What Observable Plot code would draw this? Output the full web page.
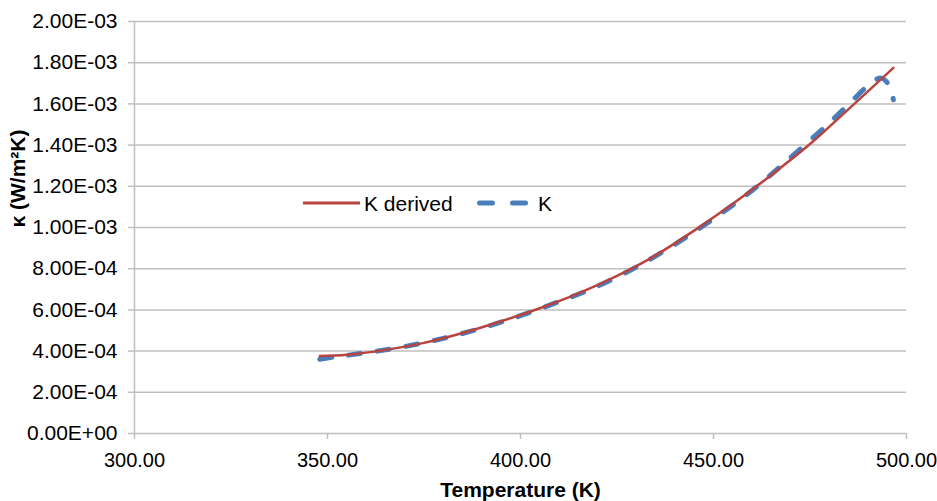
<!DOCTYPE html>
<html>
<head>
<meta charset="utf-8">
<script src="https://cdn.jsdelivr.net/npm/d3@7"></script>
<script src="https://cdn.jsdelivr.net/npm/@observablehq/plot@0.6"></script>
<style>
  html, body { margin: 0; padding: 0; background: #fff; }
  #wrap { position: relative; width: 937px; height: 501px; font-family: "Liberation Sans", Arial, sans-serif; }
  #legend { position: absolute; left: 300px; top: 190px; }
</style>
</head>
<body>
<div id="wrap"></div>
<script>
// Temperature (K) and κ values (W/m²K)
const tDerived = [348, 355, 365, 375, 385, 395, 405, 415, 425, 435, 445, 455, 465, 475, 485, 496.6];
const kDerived = [3.76e-4, 3.82e-4, 4.06e-4, 4.40e-4, 4.88e-4, 5.45e-4, 6.08e-4, 6.80e-4, 7.65e-4, 8.65e-4, 9.85e-4, 1.115e-3, 1.255e-3, 1.405e-3, 1.575e-3, 1.775e-3];

const tK = [348, 352, 360, 370, 380, 390, 400, 410, 420, 430, 440, 450, 460, 470, 480, 487, 491, 493.5, 495.5, 496.6];
const kK = [3.60e-4, 3.72e-4, 3.92e-4, 4.22e-4, 4.62e-4, 5.12e-4, 5.72e-4, 6.40e-4, 7.15e-4, 8.08e-4, 9.18e-4, 1.042e-3, 1.180e-3, 1.340e-3, 1.508e-3, 1.635e-3, 1.705e-3, 1.725e-3, 1.690e-3, 1.620e-3];

const xTicks = [300, 350, 400, 450, 500];
const yTicks = [0, 2e-4, 4e-4, 6e-4, 8e-4, 1e-3, 1.2e-3, 1.4e-3, 1.6e-3, 1.8e-3, 2e-3];

const seriesNames = ["K derived", "K"];
const xTitle = "Temperature (K)";
const yTitle = "κ (W/m²K)";

const derived = tDerived.map((t, i) => ({T: t, k: kDerived[i]}));
const measured = tK.map((t, i) => ({T: t, k: kK[i]}));

function sci(v) {
  if (v === 0) return "0.00E+00";
  const e = Math.floor(Math.log10(Math.abs(v)) + 1e-9);
  const m = v / Math.pow(10, e);
  const s = e < 0 ? "-" : "+";
  return m.toFixed(2) + "E" + s + String(Math.abs(e)).padStart(2, "0");
}

const grid = "#bfbfbf";
const red = "#b8433f";
const blue = "#4a7ebb";
const FS = 21;

const chart = Plot.plot({
  width: 937,
  height: 501,
  marginLeft: 134,
  marginRight: 31,
  marginTop: 21,
  marginBottom: 68,
  style: {fontFamily: '"Liberation Sans", Arial, sans-serif', fontSize: FS + "px", color: "#000", background: "#fff"},
  x: {domain: [300, 500]},
  y: {domain: [0, 2e-3]},
  marks: [
    Plot.gridY(yTicks, {stroke: grid, strokeOpacity: 1, strokeWidth: 1.5}),
    Plot.ruleX([300], {stroke: grid, strokeWidth: 1.5}),
    Plot.axisY(yTicks, {tickSize: 6, tickPadding: 11, stroke: grid, strokeWidth: 1.5, tickFormat: sci, label: null, fill: "#000", fontSize: FS}),
    Plot.axisX(xTicks, {tickSize: 6, tickPadding: 13, stroke: grid, strokeWidth: 1.5, tickFormat: d => d.toFixed(2), label: null, fill: "#000", fontSize: 20}),
    Plot.line(measured, {x: "T", y: "k", stroke: blue, strokeWidth: 5, strokeDasharray: "12,17", strokeLinecap: "round", curve: "catmull-rom"}),
    Plot.line(derived, {x: "T", y: "k", stroke: red, strokeWidth: 2.5, curve: "catmull-rom"}),
    Plot.text([xTitle], {frameAnchor: "bottom", dy: 57, lineAnchor: "middle", fontWeight: "bold", fontSize: FS}),
    Plot.text([yTitle], {frameAnchor: "left", dx: -116, rotate: -90, lineAnchor: "middle", fontWeight: "bold", fontSize: FS})
  ]
});

const wrap = document.getElementById("wrap");
wrap.appendChild(chart);

// Legend (overlay)
const ns = "http://www.w3.org/2000/svg";
const leg = document.createElementNS(ns, "svg");
leg.setAttribute("id", "legend");
leg.setAttribute("width", 270);
leg.setAttribute("height", 26);
leg.innerHTML = `
  <line x1="3" x2="60" y1="13" y2="13" stroke="${red}" stroke-width="3"/>
  <text x="64" y="13" dominant-baseline="central" font-size="${FS}" font-family="Liberation Sans, Arial, sans-serif">${seriesNames[0]}</text>
  <line x1="179.5" x2="225.5" y1="13" y2="13" stroke="${blue}" stroke-width="5" stroke-dasharray="13,20" stroke-linecap="round"/>
  <text x="238" y="13" dominant-baseline="central" font-size="${FS}" font-family="Liberation Sans, Arial, sans-serif">${seriesNames[1]}</text>`;
wrap.appendChild(leg);
</script>
</body>
</html>
